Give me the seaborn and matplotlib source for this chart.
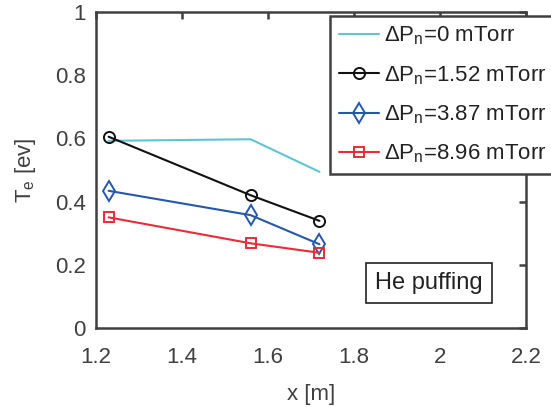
import matplotlib
matplotlib.use("Agg")
import matplotlib.pyplot as plt
import seaborn as sns
import pandas as pd

x_pos = [1.23, 1.56, 1.72]
te_0 = [0.592, 0.597, 0.494]
te_152 = [0.605, 0.420, 0.339]
te_387 = [0.434, 0.357, 0.265]
te_896 = [0.350, 0.268, 0.238]
labels = ["0", "1.52", "3.87", "8.96"]
x_ticks = [1.2, 1.4, 1.6, 1.8, 2.0, 2.2]
x_ticklabels = ["1.2", "1.4", "1.6", "1.8", "2", "2.2"]
y_ticks = [0, 0.2, 0.4, 0.6, 0.8, 1.0]
y_ticklabels = ["0", "0.2", "0.4", "0.6", "0.8", "1"]

sns.set_style("white")
plt.rcParams["font.family"] = ["Liberation Sans", "DejaVu Sans"]
plt.rcParams["mathtext.fontset"] = "custom"
plt.rcParams["mathtext.rm"] = "Liberation Sans"
plt.rcParams["mathtext.it"] = "Liberation Sans:italic"

fig = plt.figure(figsize=(5.51, 4.07), dpi=100)
ax = fig.add_axes([0.1737, 0.194, 0.9546 - 0.1737, 0.971 - 0.194])

gray = "#404040"
styles = [
    (te_0, "#5cc6d4", None, {}),
    (te_152, "#111111", "o", dict(markersize=8)),
    (te_387, "#2457b0", "d", dict(markersize=10)),
    (te_896, "#ee2a35", "s", dict(markersize=6.5)),
]
for (vals, col, mk, kw), lab in zip(styles, labels):
    df = pd.DataFrame({"x": x_pos, "y": vals})
    if mk is not None:
        kw = dict(kw, markerfacecolor="none", markeredgecolor=col, markeredgewidth=1.4)
    sns.lineplot(data=df, x="x", y="y", ax=ax, color=col, marker=mk,
                 linewidth=1.5, label=r"$\Delta\mathregular{P_n}$=" + lab + " mTorr", **kw)

ax.set_xlim(1.2, 2.2)
ax.set_ylim(0, 1)
ax.set_xticks(x_ticks)
ax.set_xticklabels(x_ticklabels)
ax.set_yticks(y_ticks)
ax.set_yticklabels(y_ticklabels)
ax.tick_params(direction="in", length=5, width=1.8, color=gray, labelcolor=gray,
               labelsize=16, top=True, right=True)
ax.tick_params(axis="x", pad=14)
ax.tick_params(axis="y", pad=7)
for s in ax.spines.values():
    s.set_color(gray)
    s.set_linewidth(1.8)

ax.set_xlabel("x [m]", fontsize=16, color=gray, labelpad=11)
ax.set_ylabel(r"T$_\mathregular{e}$ [ev]", fontsize=16, color=gray, labelpad=12)

leg = ax.legend(loc="upper left", bbox_to_anchor=(330 / 551, 1 - 16 / 407),
                bbox_transform=fig.transFigure, fontsize=16, frameon=True,
                fancybox=False, framealpha=1, edgecolor=gray, handlelength=1.8,
                handletextpad=0.25, labelspacing=0.75, borderpad=0.4, borderaxespad=0)
leg.get_frame().set_linewidth(1.8)
for t in leg.get_texts():
    t.set_color("#222222")

ax.text(1.85, 0.142, "He puffing", fontsize=17, color="#222222", va="center", ha="left",
        bbox=dict(boxstyle="square,pad=0.38", facecolor="white", edgecolor="#222222", linewidth=1.2))

fig.savefig("out.png", dpi=100)
